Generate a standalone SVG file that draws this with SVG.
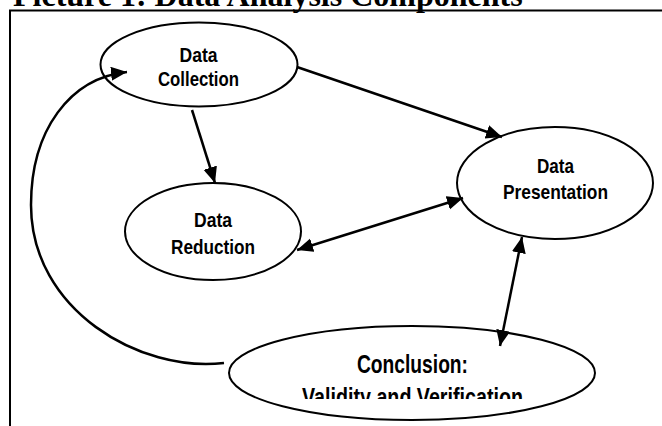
<svg xmlns="http://www.w3.org/2000/svg" width="662" height="426" viewBox="0 0 662 426">
<style>
.node ellipse{fill:#fff;stroke:#000;stroke-width:2}
.lbl{font-family:"Liberation Sans",Arial,sans-serif;font-weight:bold;fill:#000;text-anchor:middle}
.conn path{fill:none;stroke:#000;stroke-width:2.5}
.title{font-family:"Liberation Serif","Times New Roman",serif;font-weight:bold;font-size:32px;fill:#000}
</style>
<defs>
<marker id="ah" markerUnits="userSpaceOnUse" markerWidth="18" markerHeight="16" refX="16" refY="7" orient="auto-start-reverse">
<path d="M0,0 L16,7 L0,14 z" fill="#000"/>
</marker>
<clipPath id="cclip"><rect x="0" y="0" width="662" height="399"/></clipPath>
</defs>
<rect width="662" height="426" fill="#fff"/>
<text class="title" x="13" y="6">Picture 1: Data Analysis Components</text>
<rect x="10" y="10.5" width="700" height="500" fill="none" stroke="#000" stroke-width="2"/>
<g id="data-collection" class="node">
<ellipse cx="199" cy="64.5" rx="98.5" ry="42"/>
<text class="lbl" x="198.5" y="62" font-size="21" textLength="38" lengthAdjust="spacingAndGlyphs">Data</text>
<text class="lbl" x="198.5" y="85.5" font-size="21" textLength="81" lengthAdjust="spacingAndGlyphs">Collection</text>
</g>
<g id="data-presentation" class="node">
<ellipse cx="555" cy="183" rx="98" ry="56"/>
<text class="lbl" x="555.5" y="172.5" font-size="21" textLength="37" lengthAdjust="spacingAndGlyphs">Data</text>
<text class="lbl" x="555.5" y="199" font-size="21" textLength="105" lengthAdjust="spacingAndGlyphs">Presentation</text>
</g>
<g id="data-reduction" class="node">
<ellipse cx="213" cy="231.5" rx="88" ry="48.5"/>
<text class="lbl" x="213" y="227" font-size="21" textLength="38" lengthAdjust="spacingAndGlyphs">Data</text>
<text class="lbl" x="213" y="254" font-size="21" textLength="84" lengthAdjust="spacingAndGlyphs">Reduction</text>
</g>
<g id="conclusion" class="node">
<ellipse cx="412" cy="373" rx="183" ry="47"/>
<text class="lbl" x="412.5" y="372.5" font-size="25" textLength="111" lengthAdjust="spacingAndGlyphs">Conclusion:</text>
<text class="lbl" x="412.5" y="406" font-size="25" textLength="221" lengthAdjust="spacingAndGlyphs" clip-path="url(#cclip)">Validity and Verification</text>
</g>
<g id="connectors" class="conn">
<path d="M297,67 L502,137" marker-end="url(#ah)"/>
<path d="M192,110 L215,183" marker-end="url(#ah)"/>
<path d="M297,250 L463,198" marker-start="url(#ah)" marker-end="url(#ah)"/>
<path d="M522,237 L500,346" marker-start="url(#ah)" marker-end="url(#ah)"/>
<path d="M224,363 C140,373 31,310 31,205 C31,130 70,78 127,72" marker-end="url(#ah)"/>
</g>
</svg>
